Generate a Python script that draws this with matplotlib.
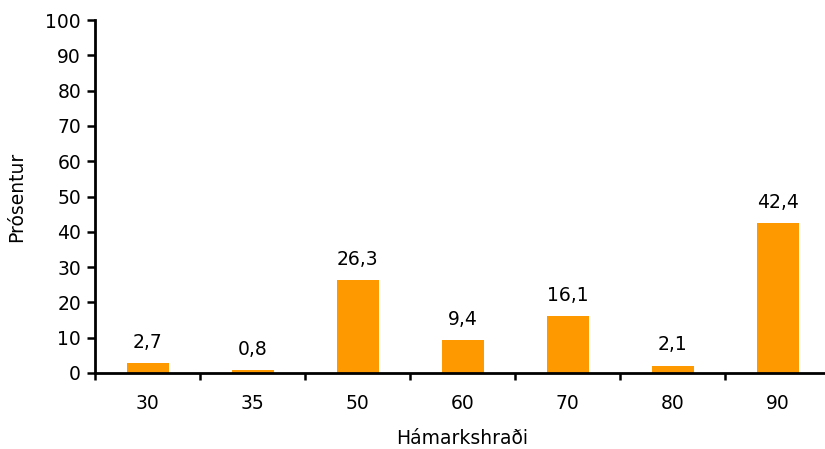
import matplotlib
matplotlib.use('Agg')
import matplotlib.pyplot as plt

# Data
speeds = ["30", "35", "50", "60", "70", "80", "90"]
percent = [2.7, 0.8, 26.3, 9.4, 16.1, 2.1, 42.4]
y_ticks = [0, 10, 20, 30, 40, 50, 60, 70, 80, 90, 100]

plt.rcParams['font.family'] = ['DejaVu Sans']
FS = 13.5

W, H = 825, 449
fig = plt.figure(figsize=(W / 100, H / 100), dpi=100)
# axes box in pixel coordinates: left 95, right 830, top 20, bottom 373
ax = fig.add_axes([95 / W, (H - 373) / H, (830 - 95) / W, (373 - 20) / H])

x = list(range(len(speeds)))
ax.bar(x, percent, width=0.4, color="#FF9900", zorder=2)

for xi, v in zip(x, percent):
    ax.annotate(f"{v:.1f}".replace(".", ","), (xi, v), xytext=(0, 8),
                textcoords="offset points", ha="center", va="bottom", fontsize=FS)

ax.set_xlim(-0.5, len(speeds) - 0.5)
ax.set_ylim(0, 100)
ax.set_yticks(y_ticks)
ax.set_xticks(x)
ax.set_xticklabels(speeds)
ax.set_xticks([i - 0.5 for i in range(len(speeds) + 1)], minor=True)

ax.tick_params(axis="x", which="major", length=0, pad=15, labelsize=FS)
ax.tick_params(axis="x", which="minor", length=5, width=1.8, direction="out")
ax.tick_params(axis="y", length=6, width=1.8, direction="out", labelsize=FS, pad=4)

for side in ["top", "right"]:
    ax.spines[side].set_visible(False)
ax.spines["left"].set_linewidth(2)
ax.spines["bottom"].set_linewidth(2)
ax.spines["bottom"].set_zorder(3)

ax.set_xlabel("Hámarkshraði", fontsize=FS, labelpad=12)
ax.set_ylabel("Prósentur", fontsize=FS, labelpad=14)

fig.savefig("out.png", dpi=100)
